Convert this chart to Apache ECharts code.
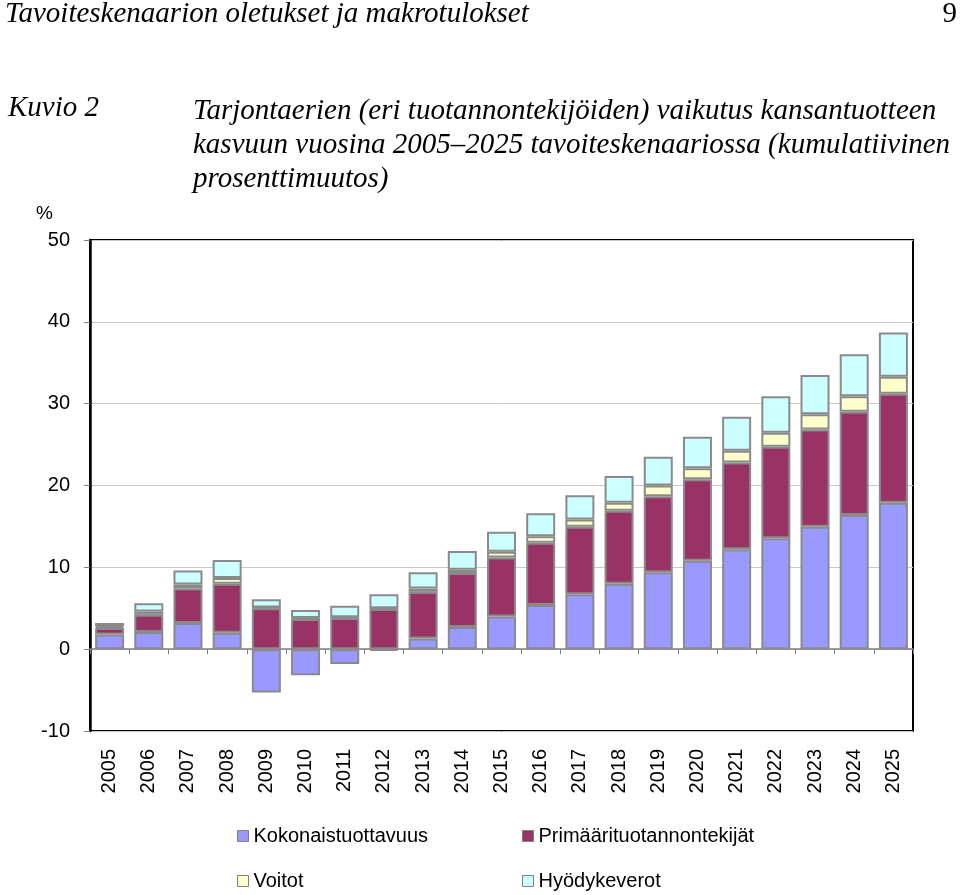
<!DOCTYPE html>
<html>
<head>
<meta charset="utf-8">
<script src="https://cdn.jsdelivr.net/npm/echarts@6/dist/echarts.min.js"></script>
<style>
html,body{margin:0;padding:0;background:#fff;}
#c{width:960px;height:895px;}
</style>
</head>
<body>
<div id="c"></div>
<script>
var years = ['2005','2006','2007','2008','2009','2010','2011','2012','2013','2014','2015','2016','2017','2018','2019','2020','2021','2022','2023','2024','2025'];
var kokonaistuottavuus = [1.8, 2.1, 3.2, 2.0, -5.3, -3.2, -1.8, -0.2, 1.3, 2.7, 4.0, 5.4, 6.7, 8.0, 9.4, 10.8, 12.2, 13.55, 14.95, 16.4, 17.9];
var primaarituotannontekijat = [0.8, 2.1, 4.2, 6.0, 5.0, 3.7, 3.8, 4.9, 5.7, 6.6, 7.2, 7.6, 8.25, 8.9, 9.3, 9.95, 10.6, 11.2, 11.9, 12.6, 13.3];
var voitot = [0.2, 0.4, 0.5, 0.7, 0.1, 0.1, 0.1, 0.1, 0.4, 0.4, 0.7, 0.8, 0.9, 1.0, 1.3, 1.35, 1.45, 1.7, 1.85, 1.9, 2.1];
var hyodykeverot = [0.4, 1.0, 1.7, 2.2, 1.0, 1.0, 1.4, 1.7, 2.0, 2.3, 2.45, 2.8, 2.95, 3.25, 3.5, 3.85, 4.15, 4.45, 4.8, 5.15, 5.4];
var seriesNames = ['Kokonaistuottavuus', 'Primäärituotannontekijät', 'Voitot', 'Hyödykeverot'];
var yTicks = {min: -10, max: 50, interval: 10};

var colors = ['#9999FF', '#993366', '#FFFFCC', '#CCFFFF'];
var chart = echarts.init(document.getElementById('c'), null, {renderer: 'canvas'});
var serifFont = '"Liberation Serif", "DejaVu Serif", serif';
var sansFont = '"Liberation Sans", Arial, sans-serif';

function mkSeries(name, data, i) {
  return {
    name: name, type: 'bar', stack: 'total', data: data,
    xAxisIndex: 0, yAxisIndex: 0,
    barCategoryGap: '26%',
    itemStyle: {color: colors[i], borderColor: '#8a8a8a', borderWidth: 2},
    emphasis: {disabled: true}
  };
}
function mkLegend(name, left, top) {
  return {
    data: [name], left: left, top: top, orient: 'horizontal',
    itemWidth: 11, itemHeight: 11, itemGap: 5, padding: 0,
    icon: 'rect',
    itemStyle: {borderColor: '#808080', borderWidth: 1},
    textStyle: {fontFamily: sansFont, fontSize: 20, color: '#000', padding: [0,0,0,0]},
    selectedMode: false
  };
}

var option = {
  animation: false,
  backgroundColor: '#fff',
  tooltip: {show: false},
  axisPointer: {show: false},
  grid: {left: 90, right: 47, top: 240, bottom: 164, show: true, borderColor: '#000', borderWidth: 2, containLabel: false},
  xAxis: [
    {
      type: 'category', data: years, position: 'bottom',
      axisLine: {show: true, onZero: true, lineStyle: {color: '#808080', width: 1.5}},
      axisTick: {show: true, inside: false, length: 5, lineStyle: {color: '#808080', width: 1}},
      axisLabel: {show: false},
      axisPointer: {show: false}
    },
    {
      type: 'category', data: years, position: 'bottom',
      axisLine: {show: false, onZero: false}, axisTick: {show: false},
      splitLine: {show: false},
      axisLabel: {show: true, rotate: 90, margin: 18, fontFamily: sansFont, fontSize: 20, color: '#000'},
      axisPointer: {show: false}
    }
  ],
  yAxis: {
    type: 'value', min: yTicks.min, max: yTicks.max, interval: yTicks.interval,
    axisLine: {show: true, lineStyle: {color: '#000', width: 2.5}},
    axisTick: {show: true, length: 6, lineStyle: {color: '#808080'}},
    axisLabel: {fontFamily: sansFont, fontSize: 20, color: '#000', margin: 20},
    splitLine: {show: true, lineStyle: {color: '#c8c8c8', width: 1}},
    axisPointer: {show: false}
  },
  legend: [
    mkLegend(seriesNames[0], 237, 826),
    mkLegend(seriesNames[1], 522, 826),
    mkLegend(seriesNames[2], 237, 871),
    mkLegend(seriesNames[3], 522, 871)
  ],
  series: [
    mkSeries(seriesNames[0], kokonaistuottavuus, 0),
    mkSeries(seriesNames[1], primaarituotannontekijat, 1),
    mkSeries(seriesNames[2], voitot, 2),
    mkSeries(seriesNames[3], hyodykeverot, 3)
  ],
  graphic: [
    {type: 'text', left: 5, top: 0, style: {text: 'Tavoiteskenaarion oletukset ja makrotulokset', font: 'italic 29px ' + serifFont, fill: '#000'}},
    {type: 'text', right: 3, top: 0, style: {text: '9', font: '29px ' + serifFont, fill: '#000'}},
    {type: 'text', left: 8, top: 94, style: {text: 'Kuvio 2', font: 'italic 29px ' + serifFont, fill: '#000'}},
    {type: 'text', left: 193, top: 94, style: {text: 'Tarjontaerien (eri tuotannontekijöiden) vaikutus kansantuotteen\nkasvuun vuosina 2005–2025 tavoiteskenaariossa (kumulatiivinen\nprosenttimuutos)', font: 'italic 29px ' + serifFont, fill: '#000', lineHeight: 34}},
    {type: 'text', left: 36, top: 204, style: {text: '%', font: '19px ' + sansFont, fill: '#000'}}
  ]
};
chart.setOption(option);
</script>
</body>
</html>
